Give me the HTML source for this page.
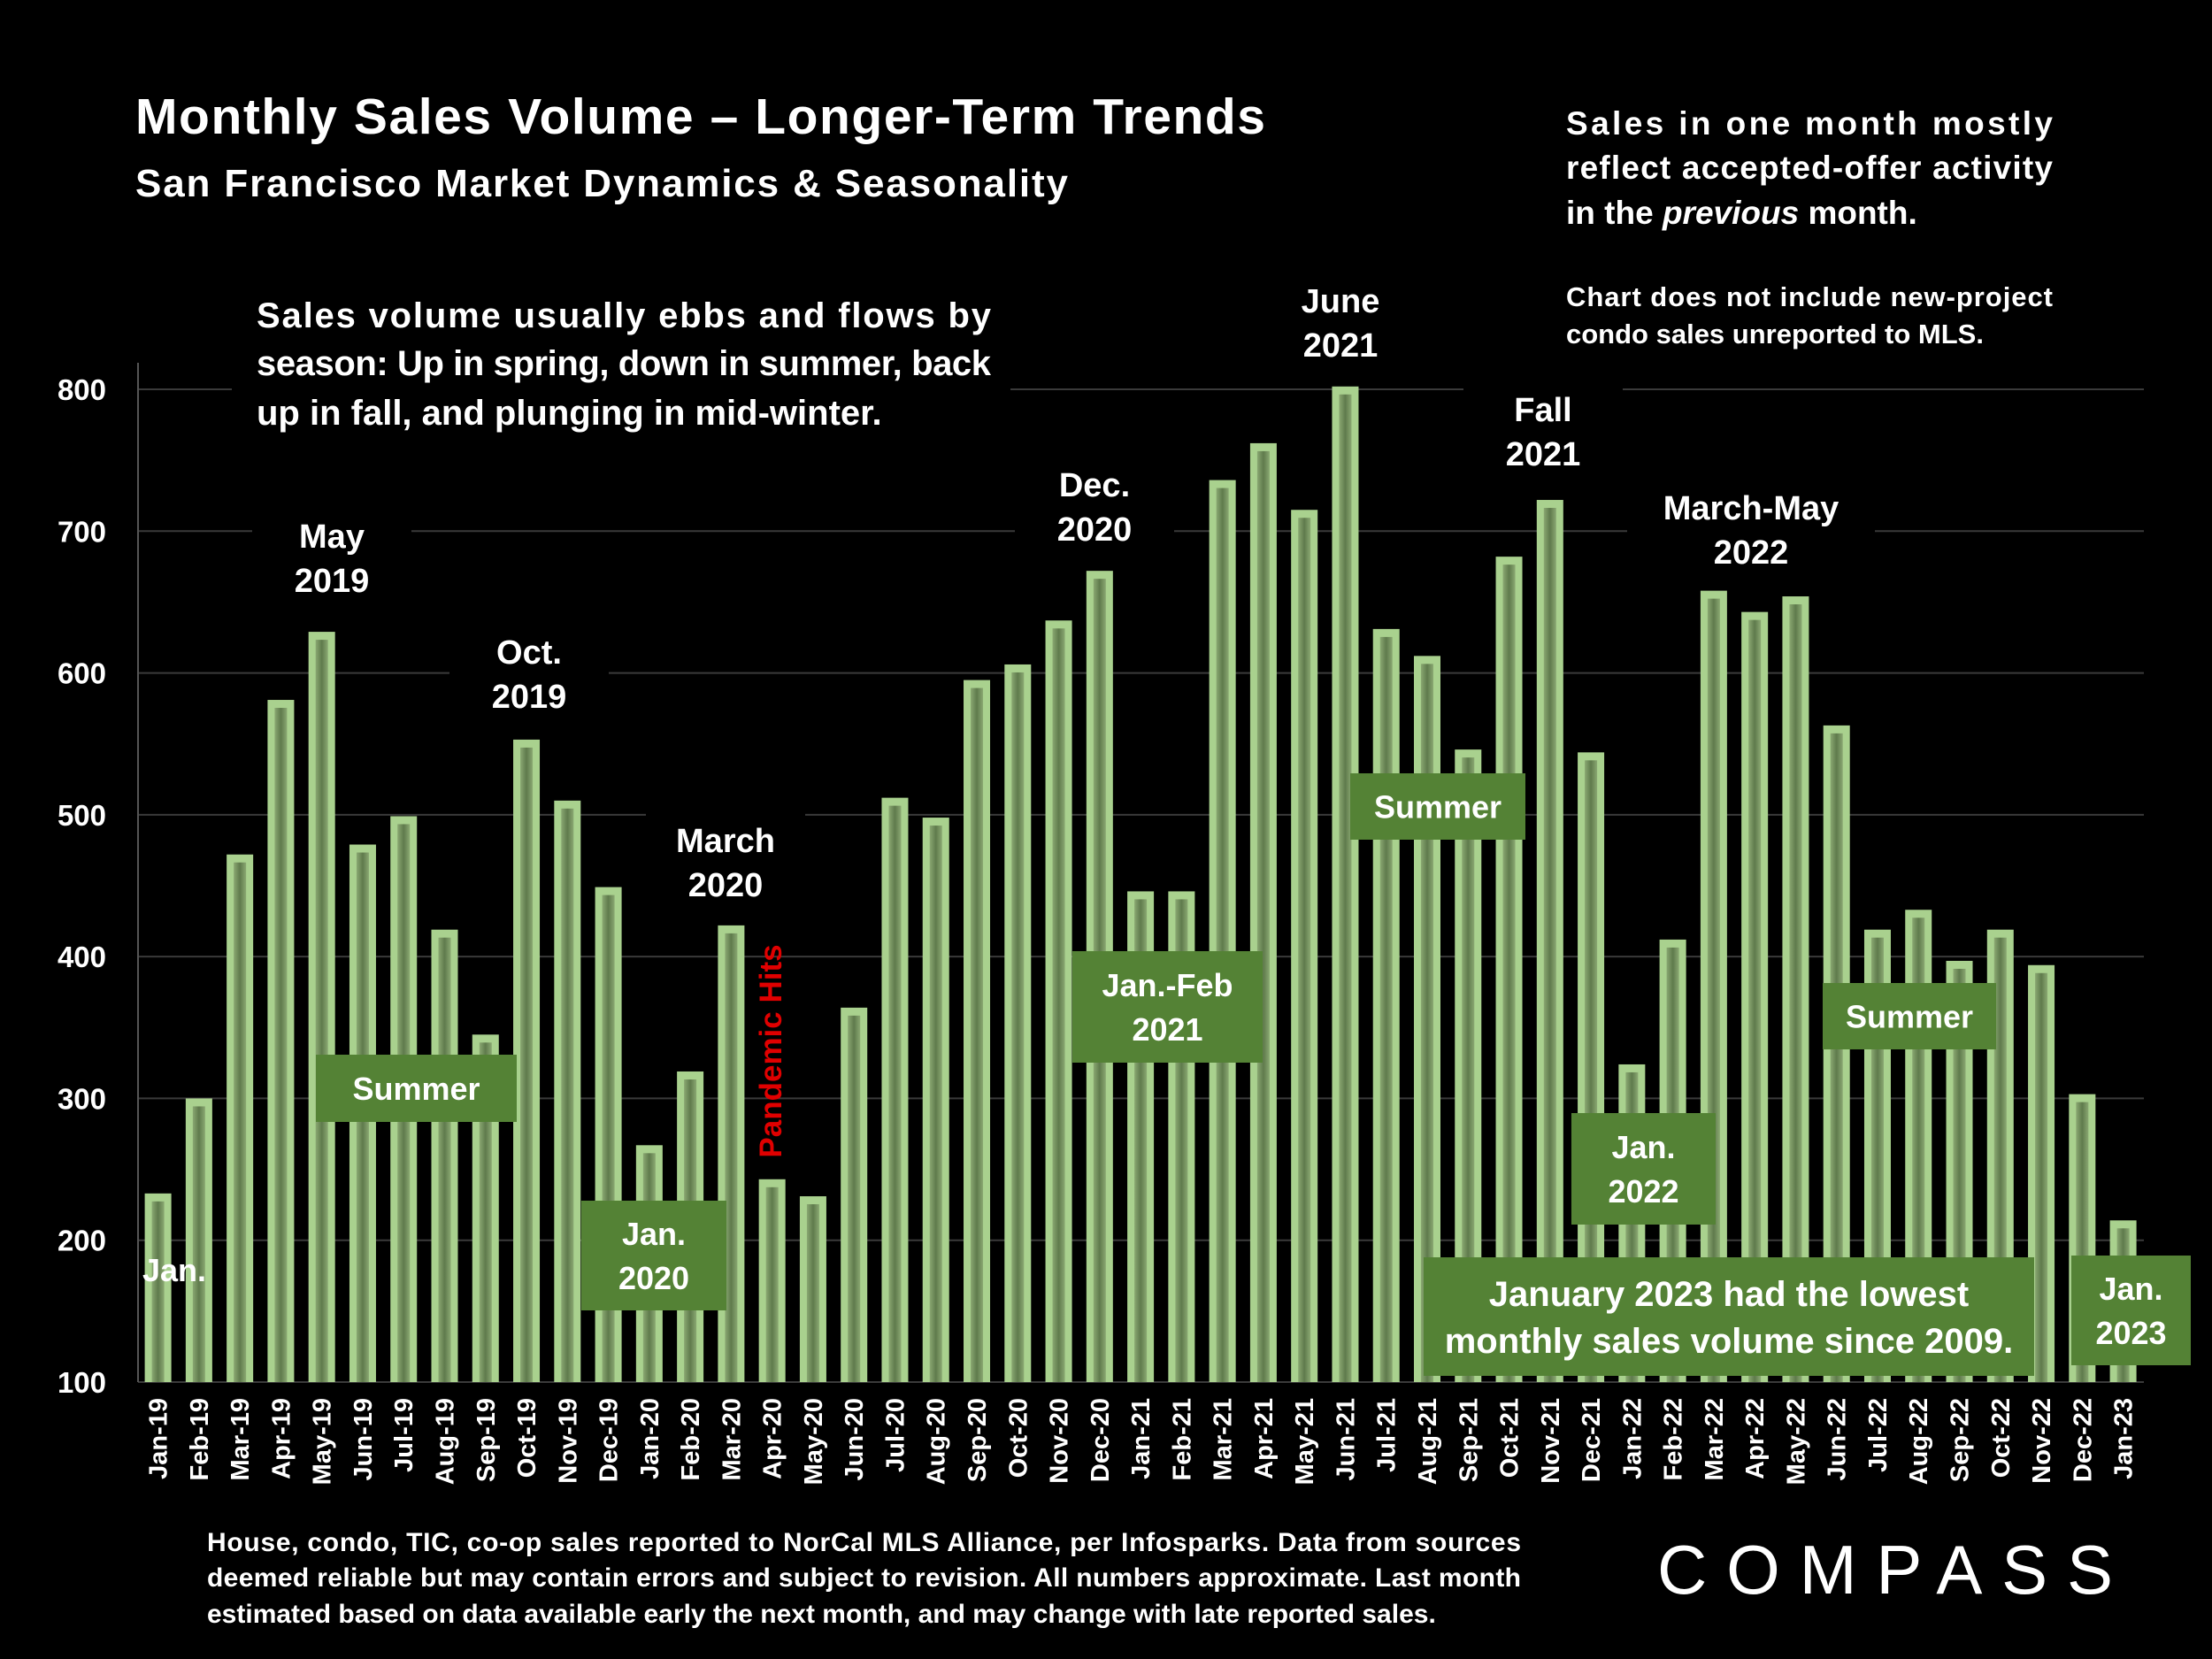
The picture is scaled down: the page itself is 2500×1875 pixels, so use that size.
<!DOCTYPE html>
<html><head><meta charset="utf-8"><style>
html,body{margin:0;padding:0;background:#000;}
svg{display:block;font-family:"Liberation Sans",sans-serif;}
</style></head><body>
<svg id="chart" width="2500" height="1875" viewBox="0 0 2500 1875">
<defs>
<linearGradient id="inner" x1="0" x2="1" y1="0" y2="0">
<stop offset="0" stop-color="#8aa872"/><stop offset="0.5" stop-color="#5f7a4c"/><stop offset="1" stop-color="#8aa872"/>
</linearGradient>
</defs>
<rect width="2500" height="1875" fill="#000"/>
<g id="grid"></g>
<g id="bars"></g>
<g id="yt"></g>
<g id="xt"></g>

<g font-weight="bold" fill="#fff">
<text x="153" y="151" font-size="57" textLength="1277">Monthly Sales Volume – Longer-Term Trends</text>
<text x="153" y="222" font-size="44" textLength="1054">San Francisco Market Dynamics &amp; Seasonality</text>
<g font-size="37">
<text x="1770" y="152" textLength="550">Sales in one month mostly</text>
<text x="1770" y="202" textLength="550">reflect accepted-offer activity</text>
<text x="1770" y="253">in the <tspan font-style="italic">previous</tspan> month.</text>
</g>
<g font-size="31">
<text x="1770" y="346" textLength="550">Chart does not include new-project</text>
<text x="1770" y="388">condo sales unreported to MLS.</text>
</g>
</g>
<rect x="262" y="325" width="880" height="170" fill="#000"/>
<g font-weight="bold" fill="#fff" font-size="40">
<text x="290" y="370" textLength="830">Sales volume usually ebbs and flows by</text>
<text x="290" y="424" textLength="830">season: Up in spring, down in summer, back</text>
<text x="290" y="480">up in fall, and plunging in mid-winter.</text>
</g>
<g id="ann" font-weight="bold" fill="#fff" font-size="38" text-anchor="middle"></g>
<text x="0" y="0" transform="translate(883,1188) rotate(-90)" text-anchor="middle" font-size="35" font-weight="bold" fill="#e00000">Pandemic Hits</text>
<text x="197" y="1448" text-anchor="middle" font-size="36" font-weight="bold" fill="#fff">Jan.</text>
<g font-size="30" font-weight="bold" fill="#fff">
<text x="234" y="1753" textLength="1485">House, condo, TIC, co-op sales reported to NorCal MLS Alliance, per Infosparks. Data from sources</text>
<text x="234" y="1793" textLength="1485">deemed reliable but may contain errors and subject to revision. All numbers approximate. Last month</text>
<text x="234" y="1834">estimated based on data available early the next month, and may change with late reported sales.</text>
</g>
<text x="1873" y="1801" font-size="78" fill="#fff" letter-spacing="10" textLength="525">COMPASS</text>
<script>
const categories=["Jan-19","Feb-19","Mar-19","Apr-19","May-19","Jun-19","Jul-19","Aug-19","Sep-19","Oct-19","Nov-19","Dec-19","Jan-20","Feb-20","Mar-20","Apr-20","May-20","Jun-20","Jul-20","Aug-20","Sep-20","Oct-20","Nov-20","Dec-20","Jan-21","Feb-21","Mar-21","Apr-21","May-21","Jun-21","Jul-21","Aug-21","Sep-21","Oct-21","Nov-21","Dec-21","Jan-22","Feb-22","Mar-22","Apr-22","May-22","Jun-22","Jul-22","Aug-22","Sep-22","Oct-22","Nov-22","Dec-22","Jan-23"];
const salesValues=[233,300,472,581,629,479,499,419,345,553,510,449,267,319,422,243,231,364,512,498,595,606,637,672,446,446,736,762,715,802,631,612,546,682,722,544,324,412,658,643,654,563,419,433,397,419,394,303,214];
const yTicks=[100,200,300,400,500,600,700,800];
const NS="http://www.w3.org/2000/svg";
const yMin=100,yMax=800,yBot=1562,yTop=440;
function yScale(v){return yBot-(v-yMin)*(yBot-yTop)/(yMax-yMin);}
const x0=178.6,step=(2399.6-178.6)/(categories.length-1),bw=30;
function xScale(i){return x0+i*step;}
function mk(tag,attrs,parent){const e=document.createElementNS(NS,tag);for(const k in attrs)e.setAttribute(k,attrs[k]);parent.appendChild(e);return e;}
const grid=document.getElementById('grid'),bars=document.getElementById('bars'),yt=document.getElementById('yt'),xt=document.getElementById('xt');
yTicks.forEach(t=>{
 const l=mk('line',{x1:156,x2:2423,y1:yScale(t),y2:yScale(t),stroke:'#3a3a3a','stroke-width':2},grid);
 
 
 const tx=mk('text',{x:120,y:yScale(t)+12,'text-anchor':'end','font-size':33,'font-weight':'bold',fill:'#fff'},yt);
 tx.textContent=t;
 
 
});
const ax=mk('line',{x1:156,x2:156,y1:410,y2:yBot,stroke:'#555','stroke-width':2},grid);


categories.forEach((c,i)=>{
 const cx=xScale(i),y=yScale(salesValues[i]);
 const g=mk('g',{},bars);
 
 
 mk('rect',{x:cx-bw/2,y:y,width:bw,height:yBot-y,fill:'#a9d18e'},g);
 mk('rect',{x:cx-7,y:y+9,width:14,height:yBot-y-9,fill:'url(#inner)'},g);
 const t=mk('text',{transform:`translate(${cx+10},1580) rotate(-90)`,'text-anchor':'end','font-size':29,'font-weight':'bold',fill:'#fff'},xt);
 t.textContent=c;
 
 
});
const ann=document.getElementById('ann');
const labels=[["may-2019",375,"May","2019"],["oct-2019",598,"Oct.","2019"],["march-2020",820,"March","2020"],["dec-2020",1237,"Dec.","2020"],["june-2021",1515,"June","2021"],["fall-2021",1744,"Fall","2021"],["march-may-2022",1979,"March-May","2022"]];
const labelY={"may-2019":606,"oct-2019":737,"march-2020":950,"dec-2020":548,"june-2021":340,"fall-2021":463,"march-may-2022":574};
labels.forEach(a=>{
 const g=mk('g',{},ann);
 
 
 const yy=labelY[a[0]];
 const w=a[2].length>6?240:140;
 mk('rect',{x:a[1]-w/2-20,y:yy-40,width:w+40,height:110,fill:'#000'},g);
 const t1=mk('text',{x:a[1],y:yy+13},g);t1.textContent=a[2];
 const t2=mk('text',{x:a[1],y:yy+63},g);t2.textContent=a[3];
});
const boxes=[["summer-2019",357,1192,227,76,["Summer"]],["jan-2020",657,1357,164,124,["Jan.","2020"]],["jan-feb-2021",1212,1075,215,126,["Jan.-Feb","2021"]],["summer-2021",1526,874,198,75,["Summer"]],["jan-2022",1776,1258,163,126,["Jan.","2022"]],["summer-2022",2060,1111,196,75,["Summer"]],["jan-2023-callout",1609,1421,690,134,["January 2023 had the lowest","monthly sales volume since 2009."]],["jan-2023",2341,1419,135,124,["Jan.","2023"]]];
boxes.forEach(b=>{
 const g=mk('g',{},ann);
 
 
 mk('rect',{x:b[1],y:b[2],width:b[3],height:b[4],fill:'#548235'},g);
 const n=b[5].length,fs=b[0]=="jan-2023-callout"?40:36,lh=b[0]=="jan-2023-callout"?53:50;
 b[5].forEach((s,k)=>{
  const t=mk('text',{x:b[1]+b[3]/2,y:b[2]+b[4]/2+(k-(n-1)/2)*lh+fs*0.36,'font-size':fs},g);
  t.textContent=s;
 });
});
</script>
</svg>
</body></html>
